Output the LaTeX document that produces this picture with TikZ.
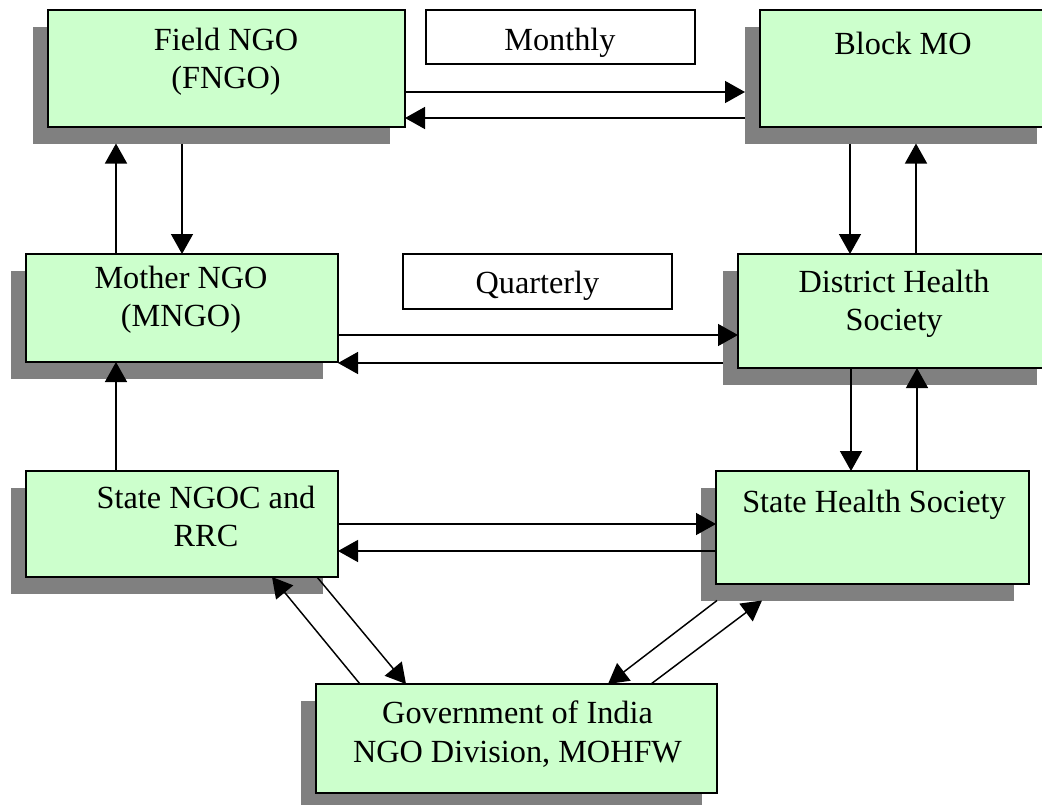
\documentclass[tikz,border=0pt]{standalone}
\usepackage{fontspec}
\setmainfont{Liberation Serif}
\usetikzlibrary{arrows.meta,fit,calc}
\definecolor{boxgreen}{HTML}{CCFFCC}
\definecolor{shadowgray}{HTML}{808080}
\begin{document}
\begin{tikzpicture}[x=0.75pt,y=-0.75pt,
  shade box/.style={fill=shadowgray, draw=none, inner sep=0pt, outer sep=0pt},
  green box/.style={fill=boxgreen, draw=black, line width=1.2pt, inner sep=0pt, outer sep=0pt},
  label box/.style={fill=white, draw=black, line width=1.2pt, inner sep=0pt, outer sep=0pt},
  txt/.style={anchor=north, inner sep=0pt, align=center, font=\fontsize{24.2pt}{28.5pt}\selectfont},
  link/.style={line width=1.1pt, -{Triangle[length=15pt,width=16.5pt]}}]
\useasboundingbox (0,0) rectangle (1042,804);
\clip (0,0) rectangle (1042,804);

% shadows
\node[shade box, fit={(33,26.5) (390,143.5)}] (fngoS) {};
\node[shade box, fit={(745,26.5) (1037,143.5)}] (bmoS) {};
\node[shade box, fit={(11,270.5) (323,378.5)}] (mngoS) {};
\node[shade box, fit={(723,270.5) (1037,384.5)}] (distS) {};
\node[shade box, fit={(11,487.5) (323,593.5)}] (sngocS) {};
\node[shade box, fit={(701,487.5) (1014,600.5)}] (shsS) {};
\node[shade box, fit={(301,700.5) (702,809.5)}] (goiS) {};

% boxes
\node[green box, fit={(48,10) (405,127)}] (fngo) {};
\node[green box, fit={(760,10) (1052,127)}] (bmo) {};
\node[green box, fit={(26,254) (338,362)}] (mngo) {};
\node[green box, fit={(738,254) (1052,368)}] (dist) {};
\node[green box, fit={(26,471) (338,577)}] (sngoc) {};
\node[green box, fit={(716,471) (1029,584)}] (shs) {};
\node[green box, fit={(316,684) (717,793)}] (goi) {};
\node[label box, fit={(426,10) (695,64)}] (monthly) {};
\node[label box, fit={(403,254) (672,309)}] (quarterly) {};

% texts
\node[txt] (fngoT) at (226,28) {Field NGO\\(FNGO)};
\node[txt] (monthlyT) at (560,28) {Monthly};
\node[txt] (bmoT) at (903,32) {Block MO};
\node[txt] (quarterlyT) at (537.5,271) {Quarterly};
\node[txt] (mngoT) at (181,266) {Mother NGO\\(MNGO)};
\node[txt] (distT) at (894,270) {District Health\\Society};
\node[txt] (sngocT) at (206,486) {State NGOC and\\RRC};
\node[txt] (shsT) at (874,490) {State Health Society};
\node[txt] (goiT) at (517.5,701) {Government of India\\NGO Division, MOHFW};

% connectors
\draw[link] (fngo.east |- 0,92) -- (bmoS.west |- 0,92);
\draw[link] (bmoS.west |- 0,118) -- (fngo.east |- 0,118);
\draw[link] (fngoS.south -| 182,0) -- (mngo.north -| 182,0);
\draw[link] (mngo.north -| 116,0) -- (fngoS.south -| 116,0);
\draw[link] (sngoc.north -| 116,0) -- (mngo.south -| 116,0);
\draw[link] (mngo.east |- 0,335) -- (dist.west |- 0,335);
\draw[link] (distS.west |- 0,363) -- (mngo.east |- 0,363);
\draw[link] (bmoS.south -| 850,0) -- (dist.north -| 850,0);
\draw[link] (dist.north -| 916,0) -- (bmoS.south -| 916,0);
\draw[link] (dist.south -| 851,0) -- (shs.north -| 851,0);
\draw[link] (shs.north -| 917,0) -- (dist.south -| 917,0);
\draw[link] (sngoc.east |- 0,524) -- (shs.west |- 0,524);
\draw[link] (shs.west |- 0,551) -- (sngoc.east |- 0,551);
\draw[link] (goi.north -| 360,0) -- (sngoc.south -| 272,0);
\draw[link] (sngoc.south -| 317,0) -- (goi.north -| 406,0);
\draw[link] (shsS.south -| 717,0) -- (goi.north -| 608,0);
\draw[link] (goi.north -| 651,0) -- (shsS.south -| 762,0);
\end{tikzpicture}
\end{document}
